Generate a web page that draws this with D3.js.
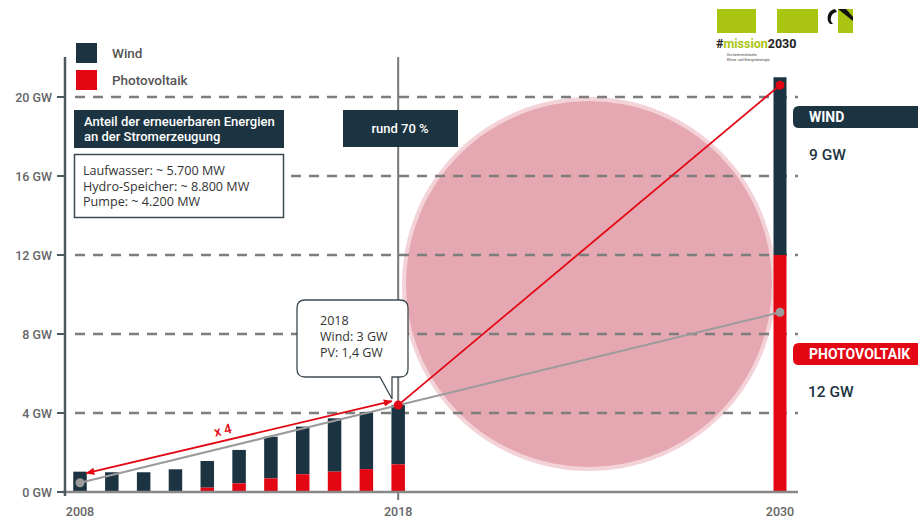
<!DOCTYPE html>
<html><head><meta charset="utf-8">
<script src="https://cdn.jsdelivr.net/npm/d3@7"></script>
<style>
html,body{margin:0;padding:0;background:#fff;}
svg{display:block;}
</style></head>
<body>
<svg id="chart" width="918" height="521"></svg>
<script>
// ---- data ----
const years = [2008, 2009, 2010, 2011, 2012, 2013, 2014, 2015, 2016, 2017, 2018];
const windGW = [1.03, 1.0, 1.0, 1.1, 1.35, 1.69, 2.11, 2.41, 2.7, 2.88, 3.0];
const pvGW   = [0, 0, 0, 0.05, 0.22, 0.44, 0.69, 0.9, 1.03, 1.16, 1.4];
const targetYear = 2030;
const targetWind = 9;
const targetPV = 12;
const yTicks = [0, 4, 8, 12, 16, 20];
const xTickYears = [2008, 2018, 2030];
const redTrend = [{year: 2018, gw: 4.4}, {year: 2030, gw: 20.6}];
const grayTrend = [{year: 2008, gw: 0.47}, {year: 2030, gw: 9.1}];
const growthArrow = [{year: 2008.2, gw: 0.95}, {year: 2017.8, gw: 4.6}];
const legendItems = ["Wind", "Photovoltaik"];
const infoTitle = ["Anteil der erneuerbaren Energien", "an der Stromerzeugung"];
const infoLines = ["Laufwasser: ~ 5.700 MW", "Hydro-Speicher: ~ 8.800 MW", "Pumpe: ~ 4.200 MW"];
const calloutLines = ["2018", "Wind: 3 GW", "PV: 1,4 GW"];

// ---- styles ----
const DARK = "#1c3441", RED = "#e30613", GRID = "#7d7d7d", LIME = "#a9c512";
const FONT = "Roboto, sans-serif", FONT2 = "'Open Sans', sans-serif";
const svg = d3.select("#chart");
const x = d3.scaleLinear().domain([2008, 2030]).range([80, 780]);
const y = d3.scaleLinear().domain([0, 20]).range([492, 97]);
const barW = 13.5;

// pink circle (background)
svg.append("circle").attr("cx", 589).attr("cy", 284).attr("r", 187).attr("fill", "#f3d3d8");
svg.append("circle").attr("cx", 589).attr("cy", 284).attr("r", 183).attr("fill", "#e5a8b2");

// gridlines
svg.append("g").selectAll("line").data(yTicks.filter(d => d > 0)).join("line")
  .attr("x1", 75).attr("x2", 798).attr("y1", d => y(d)).attr("y2", d => y(d))
  .attr("stroke", GRID).attr("stroke-width", 2.5).attr("stroke-dasharray", "10,8");

// 2018 vertical line
svg.append("line").attr("x1", x(2018)).attr("x2", x(2018)).attr("y1", 57).attr("y2", 500)
  .attr("stroke", "#777").attr("stroke-width", 2);

// bars
const bars = svg.append("g");
years.forEach((yr, i) => {
  bars.append("rect").attr("x", x(yr) - barW / 2).attr("width", barW)
    .attr("y", y(windGW[i] + pvGW[i])).attr("height", y(pvGW[i]) - y(windGW[i] + pvGW[i]))
    .attr("fill", DARK);
  bars.append("rect").attr("x", x(yr) - barW / 2).attr("width", barW)
    .attr("y", y(pvGW[i])).attr("height", y(0) - y(pvGW[i])).attr("fill", RED);
});
bars.append("rect").attr("x", x(targetYear) - 6.5).attr("width", 13)
  .attr("y", y(targetWind + targetPV)).attr("height", y(targetPV) - y(targetWind + targetPV)).attr("fill", DARK);
bars.append("rect").attr("x", x(targetYear) - 6.5).attr("width", 13)
  .attr("y", y(targetPV)).attr("height", y(0) - y(targetPV)).attr("fill", RED);

// axes
svg.append("line").attr("x1", 62).attr("x2", 798).attr("y1", y(0)).attr("y2", y(0))
  .attr("stroke", "#888").attr("stroke-width", 2.5);
svg.append("line").attr("x1", 65).attr("x2", 65).attr("y1", 57).attr("y2", 496)
  .attr("stroke", "#4d5b61").attr("stroke-width", 2.5);
svg.append("g").selectAll("line").data(yTicks).join("line")
  .attr("x1", 57).attr("x2", 65).attr("y1", d => y(d)).attr("y2", d => y(d))
  .attr("stroke", "#4d5b61").attr("stroke-width", 2);
svg.append("g").selectAll("text").data(yTicks).join("text")
  .attr("x", 52).attr("y", d => y(d) + 4.5).attr("text-anchor", "end")
  .attr("font-family", FONT).attr("font-weight", 500).attr("font-size", 12.5).attr("fill", "#666")
  .text(d => d + " GW");
svg.append("g").selectAll("text").data(xTickYears).join("text")
  .attr("x", d => x(d)).attr("y", 516).attr("text-anchor", "middle")
  .attr("font-family", FONT).attr("font-weight", 500).attr("font-size", 12.5).attr("fill", "#666")
  .text(d => d);

// trend lines
const line = d3.line().x(d => x(d.year)).y(d => y(d.gw));
svg.append("path").attr("d", line(grayTrend)).attr("fill", "none").attr("stroke", "#9b9b9b").attr("stroke-width", 2);
svg.append("path").attr("d", line(redTrend)).attr("fill", "none").attr("stroke", RED).attr("stroke-width", 1.8);

// growth arrow
const defs = svg.append("defs");
defs.append("marker").attr("id", "ah").attr("viewBox", "0 0 10 10").attr("refX", 9).attr("refY", 5)
  .attr("markerWidth", 9).attr("markerHeight", 9).attr("orient", "auto-start-reverse")
  .attr("markerUnits", "userSpaceOnUse")
  .append("path").attr("d", "M0,1 L10,5 L0,9 Z").attr("fill", RED);
svg.append("path").attr("d", line(growthArrow)).attr("fill", "none").attr("stroke", RED)
  .attr("stroke-width", 1.8).attr("marker-start", "url(#ah)").attr("marker-end", "url(#ah)");
const a0 = growthArrow[0], a1 = growthArrow[1];
const ang = Math.atan2(y(a1.gw) - y(a0.gw), x(a1.year) - x(a0.year)) * 180 / Math.PI;
const mx = x(a0.year) + (x(a1.year) - x(a0.year)) * 0.45, my = y(a0.gw) + (y(a1.gw) - y(a0.gw)) * 0.45;
svg.append("text").attr("transform", `translate(${mx},${my - 6}) rotate(${ang})`)
  .attr("text-anchor", "middle").attr("font-family", FONT).attr("font-weight", 500).attr("font-size", 13.5)
  .attr("fill", RED).text("x 4");

// dots
svg.append("circle").attr("cx", x(grayTrend[0].year)).attr("cy", y(grayTrend[0].gw)).attr("r", 4.5).attr("fill", "#9b9b9b");
svg.append("circle").attr("cx", x(grayTrend[1].year)).attr("cy", y(grayTrend[1].gw)).attr("r", 4.5).attr("fill", "#9b9b9b");
redTrend.forEach(p => svg.append("circle").attr("cx", x(p.year)).attr("cy", y(p.gw)).attr("r", 4.5).attr("fill", RED));

// legend
legendItems.forEach((t, i) => {
  svg.append("rect").attr("x", 76).attr("y", 43 + i * 27).attr("width", 21).attr("height", 20)
    .attr("fill", i === 0 ? DARK : RED);
  svg.append("text").attr("x", 112).attr("y", 58 + i * 27).attr("font-family", FONT).attr("font-weight", 500)
    .attr("font-size", 13.5).attr("fill", "#555").text(t);
});

// info boxes
svg.append("rect").attr("x", 74).attr("y", 110).attr("width", 210).attr("height", 38).attr("fill", DARK);
infoTitle.forEach((t, i) => svg.append("text").attr("x", 84).attr("y", 126 + i * 15)
  .attr("font-family", FONT).attr("font-weight", 500).attr("font-size", 13).attr("fill", "#fff").text(t));
svg.append("rect").attr("x", 74.5).attr("y", 154.5).attr("width", 209).attr("height", 63)
  .attr("fill", "#fff").attr("stroke", "#3d4a50").attr("stroke-width", 1.5);
infoLines.forEach((t, i) => svg.append("text").attr("x", 83).attr("y", 175 + i * 15.5)
  .attr("font-family", FONT2).attr("font-size", 12.6).attr("fill", "#333").text(t));

// rund 70 %
svg.append("rect").attr("x", 343).attr("y", 110).attr("width", 115).attr("height", 37).attr("fill", DARK);
svg.append("text").attr("x", 400).attr("y", 133).attr("text-anchor", "middle")
  .attr("font-family", FONT).attr("font-weight", 500).attr("font-size", 13).attr("fill", "#fff").text("rund 70 %");

// callout
const bx0 = 297, bx1 = 408, by0 = 300, by1 = 377, r = 8;
const cp = d3.path();
cp.moveTo(bx0 + r, by0);
cp.lineTo(bx1 - r, by0); cp.quadraticCurveTo(bx1, by0, bx1, by0 + r);
cp.lineTo(bx1, by1 - r); cp.quadraticCurveTo(bx1, by1, bx1 - r, by1);
cp.lineTo(392, by1); cp.lineTo(392, 399); cp.lineTo(380, by1);
cp.lineTo(bx0 + r, by1); cp.quadraticCurveTo(bx0, by1, bx0, by1 - r);
cp.lineTo(bx0, by0 + r); cp.quadraticCurveTo(bx0, by0, bx0 + r, by0);
cp.closePath();
svg.append("path").attr("d", cp.toString()).attr("fill", "#fff").attr("stroke", "#3d4a50").attr("stroke-width", 1.3);
calloutLines.forEach((t, i) => svg.append("text").attr("x", 320).attr("y", 325 + i * 16)
  .attr("font-family", FONT2).attr("font-size", 12.5).attr("fill", "#333").text(t));

// right labels
function tag(y0, h, fill, label) {
  const p = d3.path(); const rr = 6;
  p.moveTo(930, y0); p.lineTo(793 + rr, y0); p.quadraticCurveTo(793, y0, 793, y0 + rr);
  p.lineTo(793, y0 + h - rr); p.quadraticCurveTo(793, y0 + h, 793 + rr, y0 + h); p.lineTo(930, y0 + h); p.closePath();
  svg.append("path").attr("d", p.toString()).attr("fill", fill);
  svg.append("text").attr("x", 809).attr("y", y0 + h / 2 + 5).attr("font-family", FONT)
    .attr("font-weight", "bold").attr("font-size", 14).attr("fill", "#fff").text(label);
}
tag(106, 22, DARK, "WIND");
tag(343, 22, RED, "PHOTOVOLTAIK");
svg.append("text").attr("x", 809).attr("y", 160).attr("font-family", FONT).attr("font-weight", 500)
  .attr("font-size", 15.5).attr("fill", DARK).text(targetWind + " GW");
svg.append("text").attr("x", 808).attr("y", 397).attr("font-family", FONT).attr("font-weight", 500)
  .attr("font-size", 15.5).attr("fill", DARK).text(targetPV + " GW");

// logo
svg.append("rect").attr("x", 717).attr("y", 9).attr("width", 39).attr("height", 24).attr("fill", LIME);
svg.append("rect").attr("x", 777).attr("y", 9).attr("width", 41).attr("height", 24).attr("fill", LIME);
svg.append("rect").attr("x", 838).attr("y", 9).attr("width", 15).attr("height", 24).attr("fill", LIME);
svg.append("path").attr("d", "M835,9 A9,9 0 0 0 830,24 L833,24 A7,7 0 0 1 837,12 Z").attr("fill", "#111");
svg.append("path").attr("d", "M838,9 L846,9 L853,17 L853,21 Z").attr("fill", "#111");
const lt = svg.append("text").attr("x", 716).attr("y", 48).attr("font-family", FONT)
  .attr("font-size", 12.5).attr("font-weight", "bold");
lt.append("tspan").attr("fill", "#222").text("#");
lt.append("tspan").attr("fill", LIME).text("mission");
lt.append("tspan").attr("fill", "#222").text("2030");
svg.append("text").attr("x", 727).attr("y", 56).attr("font-family", FONT)
  .attr("font-size", 3.5).attr("fill", "#444").text("Die österreichische");
svg.append("text").attr("x", 727).attr("y", 61).attr("font-family", FONT)
  .attr("font-size", 3.5).attr("fill", "#444").text("Klima- und Energiestrategie");
</script>
</body></html>
